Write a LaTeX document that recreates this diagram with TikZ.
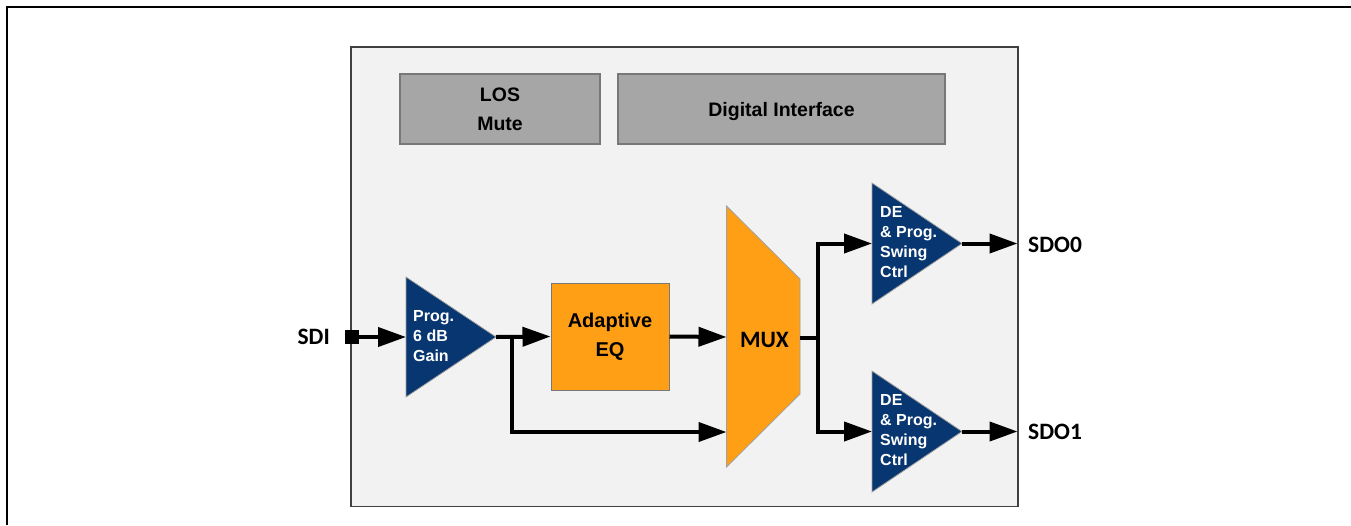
\documentclass[tikz,border=0pt]{standalone}
\usepackage{fontspec}
\setmainfont{Liberation Sans}
\newfontfamily\calfont{Carlito}
\usetikzlibrary{arrows.meta}
\definecolor{navy}{RGB}{8,54,112}
\definecolor{orangefill}{RGB}{255,159,21}
\definecolor{boxgray}{RGB}{166,166,166}
\definecolor{boxedge}{RGB}{120,120,120}
\definecolor{chipbg}{RGB}{242,242,242}
\definecolor{chipedge}{RGB}{64,64,64}
\definecolor{triedge}{RGB}{160,160,160}
\tikzset{
  wire/.style={line width=4pt,-{Triangle[length=28pt,width=19pt]}},
  plainwire/.style={line width=4pt},
  graybox/.style={draw=boxedge,line width=1.2pt,fill=boxgray,inner sep=0pt,align=center,
    font=\fontsize{19.5}{29}\selectfont\bfseries},
  eqbox/.style={draw=boxedge,line width=1pt,fill=orangefill,inner sep=0pt,align=center,
    font=\fontsize{20}{29}\selectfont\bfseries},
  amp/.style={fill=navy,draw=triedge,line width=0.8pt},
  amptext/.style={text=white,inner sep=0pt,align=left,anchor=west,
    font=\fontsize{16}{20}\selectfont\bfseries},
  pinlabel/.style={inner sep=0pt,font=\calfont\fontsize{23.5}{28}\selectfont\bfseries}
}
\begin{document}
\begin{tikzpicture}[x=1pt,y=-1pt]
\useasboundingbox (0,0) rectangle (1351,525);
% outer frame (cut off)
\draw[line width=2.5pt] (7,525) -- (7,7) -- (1351,7);
% chip box
\node[draw=chipedge,fill=chipbg,line width=1.5pt,minimum width=667pt,minimum height=459.5pt,inner sep=0pt] (chip) at (684.5,276.5) {};
% top blocks
\node[graybox,minimum width=200pt,minimum height=70pt] (los) at (500,109) {LOS\\Mute};
\node[graybox,text depth=0pt,minimum width=327pt,minimum height=70pt] (dig) at (781.5,109) {Digital Interface};
% gain amp
\coordinate (gin) at (406,337);
\coordinate (gout) at (496,337);
\draw[amp] (406,277) -- (gout) -- (406,397) -- cycle;
\node[amptext] (gtxt) at (413,336) {Prog.\\6 dB\\Gain};
% adaptive EQ
\node[eqbox,minimum width=118pt,minimum height=107pt] (eq) at (610,336.5) {Adaptive\\EQ};
% MUX
\coordinate (muxin1) at (726.5,337);
\coordinate (muxin2) at (726.5,432);
\coordinate (muxout) at (800,338);
\draw[fill=orangefill,draw=triedge,line width=0.8pt] (726.5,206) -- (800,279) -- (800,394) -- (726.5,467) -- cycle;
\node[pinlabel] (muxlbl) at (764.5,339.5) {MUX};
% output amps
\coordinate (a0in) at (872,243.5);
\coordinate (a0out) at (962,243.5);
\draw[amp] (872,183) -- (a0out) -- (872,304) -- cycle;
\node[amptext] (a0txt) at (880,242) {DE\\\& Prog.\\Swing\\Ctrl};
\coordinate (a1in) at (872,431.5);
\coordinate (a1out) at (962,431.5);
\draw[amp] (872,371) -- (a1out) -- (872,492) -- cycle;
\node[amptext] (a1txt) at (880,430) {DE\\\& Prog.\\Swing\\Ctrl};
% pins
\node[fill=black,minimum size=14pt,inner sep=0pt] (sdipin) at (352,337) {};
\node[pinlabel,anchor=east] (sdi) at (330,337) {SDI};
\coordinate (o0) at (1017.5,243.5);
\coordinate (o1) at (1017.5,431.5);
\node[pinlabel,anchor=west] (sdo0) at (1028,245) {SDO0};
\node[pinlabel,anchor=west] (sdo1) at (1028,431.5) {SDO1};
% connections
\draw[wire] (sdipin.east) -- (gin);
\draw[wire] (gout) -- (eq.west);
\coordinate (br) at (512,337);
\draw[wire] (br) |- (muxin2);
\draw[wire] (eq.east) -- (muxin1);
\coordinate (sp) at (818,338);
\draw[plainwire] (muxout) -- (sp);
\draw[wire] (sp) |- (a0in);
\draw[wire] (sp) |- (a1in);
\draw[wire] (a0out) -- (o0);
\draw[wire] (a1out) -- (o1);
\end{tikzpicture}
\end{document}
